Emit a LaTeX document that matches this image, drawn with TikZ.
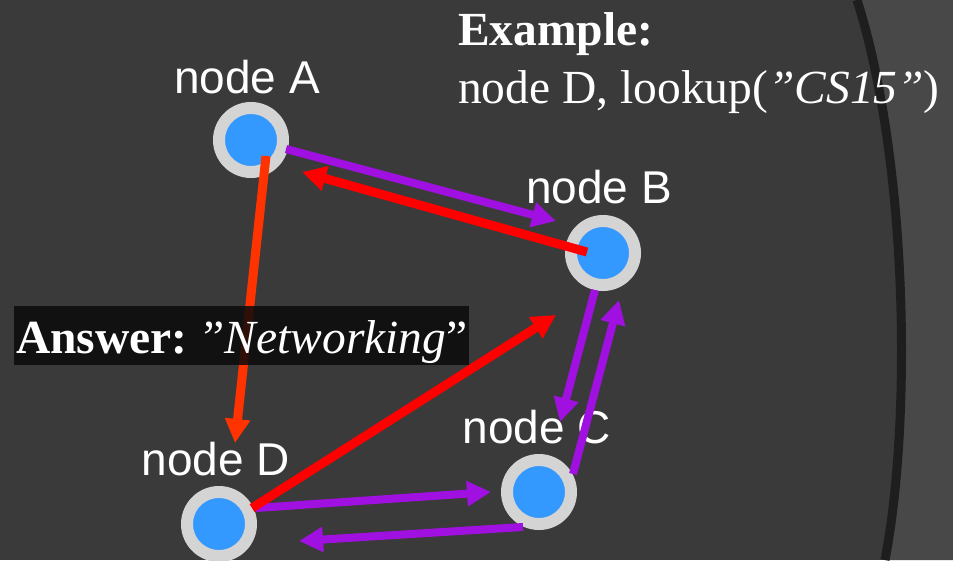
\documentclass[tikz,border=0pt]{standalone}
\usepackage{fontspec}
\setmainfont{Liberation Serif}
\newfontfamily\arialfont{Liberation Sans}
\usetikzlibrary{arrows.meta}
\definecolor{bgcol}{RGB}{58,58,58}
\definecolor{sidecol}{RGB}{72,72,72}
\definecolor{bandcol}{RGB}{30,30,30}
\definecolor{ringcol}{RGB}{212,212,212}
\definecolor{bluecol}{RGB}{51,153,255}
\definecolor{purplecol}{RGB}{160,16,224}
\definecolor{redcol}{RGB}{255,0,0}
\definecolor{orangecol}{RGB}{255,51,0}
\definecolor{boxcol}{RGB}{10,10,10}
\tikzset{
  peer/.style={circle,draw=ringcol,fill=bluecol,line width=12pt,minimum size=64pt,inner sep=0pt},
  peerlabel/.style={text=white,font=\arialfont\fontsize{46}{50}\selectfont,anchor=base,inner sep=0pt},
  tip/.style={-{Triangle[length=24pt,width=24pt]}},
  purplearrow/.style={tip,draw=purplecol,fill=purplecol,line width=8pt},
  redarrow/.style={tip,draw=redcol,fill=redcol,line width=9pt},
  orangearrow/.style={tip,draw=orangecol,fill=orangecol,line width=9pt},
  serifbig/.style={text=white,font=\fontsize{47.5}{52}\selectfont,anchor=base west,inner sep=0pt}
}
\begin{document}
\begin{tikzpicture}[x=1pt,y=-1pt]
\fill[bgcol] (0,0) rectangle (953,560);
\useasboundingbox (0,0) rectangle (953,560);
% right side band
\fill[sidecol] (857,0) .. controls (908,160) and (912,420) .. (885,560) -- (953,560) -- (953,0) -- cycle;
\draw[bandcol,line width=9pt] (857,0) .. controls (908,160) and (912,420) .. (885,560);
% peers
\node[peer] (A) at (251,140) {};
\node[peer] (B) at (603,253) {};
\node[peer] (C) at (539,492) {};
\node[peer] (D) at (219,524) {};
% labels
\node[peerlabel] (la) at (247,93) {node A};
\node[peerlabel] (lb) at (599,203) {node B};
\node[peerlabel] (lc) at (537,443) {node C};
\node[peerlabel] (ld) at (216,475) {node D};
% connector ends
\coordinate (ab0) at (286,149);
\coordinate (ab1) at (556,221);
\coordinate (ba0) at (587,252);
\coordinate (ba1) at (302,172);
\coordinate (ad0) at (266,156);
\coordinate (ad1) at (235,443);
\coordinate (db0) at (252,508);
\coordinate (db1) at (556,315);
\coordinate (bc0) at (595,290);
\coordinate (bc1) at (560,422);
\coordinate (cb0) at (573,474);
\coordinate (cb1) at (619,300);
\coordinate (dc0) at (256,508);
\coordinate (dc1) at (491,492);
\coordinate (cd0) at (523,527);
\coordinate (cd1) at (299,541);
% connectors
\draw[purplearrow] (ab0) -- (ab1);
\draw[redarrow] (ba0) -- (ba1);
\draw[orangearrow] (ad0) -- (ad1);
\draw[purplearrow] (bc0) -- (bc1);
\draw[purplearrow] (cb0) -- (cb1);
\draw[purplearrow] (dc0) -- (dc1);
\draw[purplearrow] (cd0) -- (cd1);
\draw[redarrow] (db0) -- (db1);
% answer box
\fill[boxcol,fill opacity=0.85] (14,306) rectangle (469,365);
\node[serifbig] (ans) at (16,353) {\textbf{Answer:} ”\textit{Networking}”};
% example text
\node[serifbig] (ex1) at (458,45) {\textbf{Example:}};
\node[serifbig] (ex2) at (458,103) {node D, lookup(\textit{”CS15”})};
\end{tikzpicture}
\end{document}
